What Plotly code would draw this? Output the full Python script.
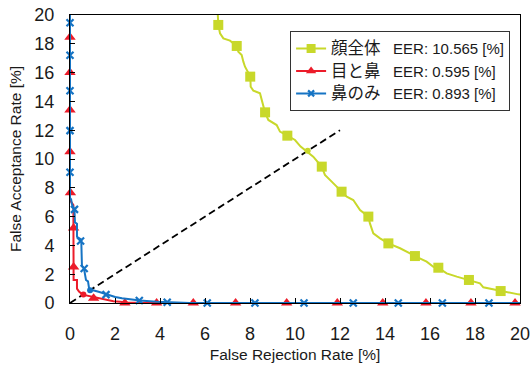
import plotly.graph_objects as go

# ---------------- data ----------------
SERIES_NAMES = ["顔全体", "目と鼻", "鼻のみ"]
EER_VALUES = [10.565, 0.595, 0.893]

# 顔全体 (whole face) curve
FACE_X = [6.55, 6.563, 6.593, 6.667, 6.815, 7.111, 7.407, 7.481, 7.63, 7.704, 7.778,
          8.015, 8.03, 8.148, 8.444, 8.667, 8.815, 9.185, 9.333, 9.659, 10.0, 10.25,
          10.52, 10.81, 11.185, 11.33, 11.63, 11.85, 12.07, 12.3, 12.59, 12.89, 13.26,
          13.33, 13.48, 13.78, 14.15, 14.67, 15.11, 15.33, 15.85, 16.15, 16.37, 16.74,
          17.19, 17.73, 18.22, 18.37, 18.81, 19.14, 19.56, 19.93, 20.5]
FACE_Y = [20.6, 20.0, 19.31, 18.73, 18.38, 18.22, 17.85, 17.45, 17.22, 16.76, 16.41,
          15.72, 15.02, 14.75, 14.56, 13.24, 12.71, 12.36, 11.9, 11.62, 11.32, 10.86,
          10.51, 10.16, 9.47, 8.89, 8.43, 8.08, 7.73, 7.38, 7.15, 6.46, 6.0,
          5.53, 4.84, 4.49, 4.14, 3.80, 3.45, 3.26, 2.87, 2.52, 2.45, 2.06,
          1.83, 1.60, 1.37, 1.09, 0.95, 0.83, 0.67, 0.60, 0.55]
FACE_MK_X = [6.59, 7.41, 8.01, 8.67, 9.66, 11.19, 12.07, 13.26, 14.15, 15.33, 16.37, 17.73, 19.14]
FACE_MK_Y = [19.31, 17.85, 15.72, 13.24, 11.62, 9.47, 7.73, 6.0, 4.14, 3.26, 2.45, 1.60, 0.83]

# 目と鼻 (eyes and nose) curve
EN_X = [0.0, 0.0, 0.06, 0.15, 0.16, 0.31, 0.31, 0.40, 0.56, 0.80, 1.05, 1.57, 1.93, 2.24,
        2.44, 3.0, 3.85, 20.5]
EN_Y = [20.6, 7.2, 7.0, 6.8, 1.6, 1.6, 1.0, 0.8, 0.58, 0.5, 0.4, 0.26, 0.12, 0.08,
        0.03, 0.01, 0.0, 0.0]
EN_MK_X = [0.0, 0.0, 0.0, 0.0, 0.02, 0.16, 0.16, 1.05, 2.44, 3.85, 5.48, 7.36, 9.63,
           11.88, 13.9, 15.82, 17.82, 19.78]
EN_MK_Y = [18.45, 16.0, 13.4, 10.5, 7.66, 5.2, 2.5, 0.33, 0.0, 0.0, 0.0, 0.0, 0.0,
           0.0, 0.0, 0.0, 0.0, 0.0]

# 鼻のみ (nose only) curve
N_X = [0.0, 0.0, 0.05, 0.08, 0.16, 0.2, 0.22, 0.31, 0.31, 0.5, 0.53, 0.62, 0.71, 0.8,
       0.85, 0.98, 1.27, 1.57, 2.01, 2.31, 2.67, 3.11, 3.85, 4.32, 5.33, 20.5]
N_Y = [20.6, 7.3, 7.2, 6.9, 6.6, 6.4, 5.6, 5.5, 4.6, 4.4, 2.6, 2.4, 1.6, 1.5,
       1.0, 0.9, 0.78, 0.62, 0.42, 0.33, 0.26, 0.17, 0.09, 0.05, 0.0, 0.0]
N_MK_X = [0.0, 0.0, 0.0, 0.0, 0.0, 0.2, 0.47, 0.63, 1.6, 3.08, 4.32, 6.1, 8.22, 10.4,
          12.59, 14.59, 16.55, 18.62]
N_MK_Y = [19.46, 17.2, 14.74, 11.97, 9.08, 6.5, 4.3, 2.4, 0.58, 0.17, 0.05, 0.0, 0.0, 0.0,
          0.0, 0.0, 0.0, 0.0]

DIAG_X = [0, 12]
DIAG_Y = [0, 12]

TICKS = [0, 2, 4, 6, 8, 10, 12, 14, 16, 18, 20]
X_TITLE = "False Rejection Rate [%]"
Y_TITLE = "False Acceptance Rate [%]"

# ---------------- styling ----------------
GREEN = "#c8d82a"
RED = "#ec1c2a"
BLUE = "#1674c4"
TXT = "#1a1a1a"
FONT = "Liberation Sans, Arial, Noto Sans CJK JP, sans-serif"

fig = go.Figure()

# diagonal
fig.add_trace(go.Scatter(x=DIAG_X, y=DIAG_Y, mode="lines", showlegend=False,
                         line=dict(color="black", width=1.8, dash="7px,4px"), hoverinfo="skip"))

styles = [
    (FACE_X, FACE_Y, FACE_MK_X, FACE_MK_Y, GREEN, dict(symbol="square", size=10)),
    (EN_X, EN_Y, EN_MK_X, EN_MK_Y, RED, dict(symbol="triangle-up", size=10)),
    (N_X, N_Y, N_MK_X, N_MK_Y, BLUE, dict(symbol="x-thin", size=7,
                                          line=dict(width=2.2, color=BLUE))),
]

for i, (lx, ly, mx, my, col, mk) in enumerate(styles):
    fig.add_trace(go.Scatter(x=lx, y=ly, mode="lines", showlegend=False,
                             line=dict(color=col, width=2), hoverinfo="skip"))
    fig.add_trace(go.Scatter(x=mx, y=my, mode="markers", showlegend=False,
                             marker=dict(color=col, **mk), cliponaxis=False))
    fig.add_trace(go.Scatter(x=[EER_VALUES[i]], y=[EER_VALUES[i]], mode="markers",
                             showlegend=False, marker=dict(color=col, size=6, symbol="circle")))

# legend entries
for i, (lx, ly, mx, my, col, mk) in enumerate(styles):
    name = ('<span style="font-size:16.5px">' + SERIES_NAMES[i] + '</span>'
            + "\u00a0\u00a0\u00a0" + "EER: %.3f [%%]" % EER_VALUES[i])
    mk2 = dict(mk)
    mk2["size"] = mk["size"] - 1
    fig.add_trace(go.Scatter(x=[None], y=[None], mode="lines+markers", name=name,
                             line=dict(color=col, width=2), marker=dict(color=col, **mk2)))

axis_common = dict(range=[0, 20], tickvals=TICKS, ticks="inside", ticklen=5,
                   tickcolor="black", tickwidth=1, showline=True, linecolor="black",
                   linewidth=1, mirror=True, showgrid=False, zeroline=False,
                   automargin=False, ticklabeloverflow="allow",
                   tickfont=dict(family=FONT, size=18, color=TXT))

fig.update_layout(
    width=532, height=365,
    margin=dict(l=70, r=12, t=15, b=62),
    paper_bgcolor="white", plot_bgcolor="white",
    font=dict(family=FONT, color=TXT),
    xaxis=dict(**axis_common, ticklabelstandoff=14,
               title=dict(text=X_TITLE, font=dict(family=FONT, size=15.5, color=TXT), standoff=6)),
    yaxis=dict(**axis_common, ticklabelstandoff=11,
               title=dict(text=Y_TITLE, font=dict(family=FONT, size=15.5, color=TXT), standoff=8)),
    legend=dict(x=0.978, xanchor="right", y=0.944, yanchor="top",
                bgcolor="white", bordercolor="#333333", borderwidth=1,
                font=dict(family=FONT, size=15, color=TXT), itemwidth=30,
                tracegroupgap=0),
    showlegend=True,
)

# remove the browser's default 8px body margin so the figure fills the window exactly
fig.write_html("out.html", config={"displayModeBar": False},
               post_script="document.body.style.margin='0';document.body.style.overflow='hidden';")
